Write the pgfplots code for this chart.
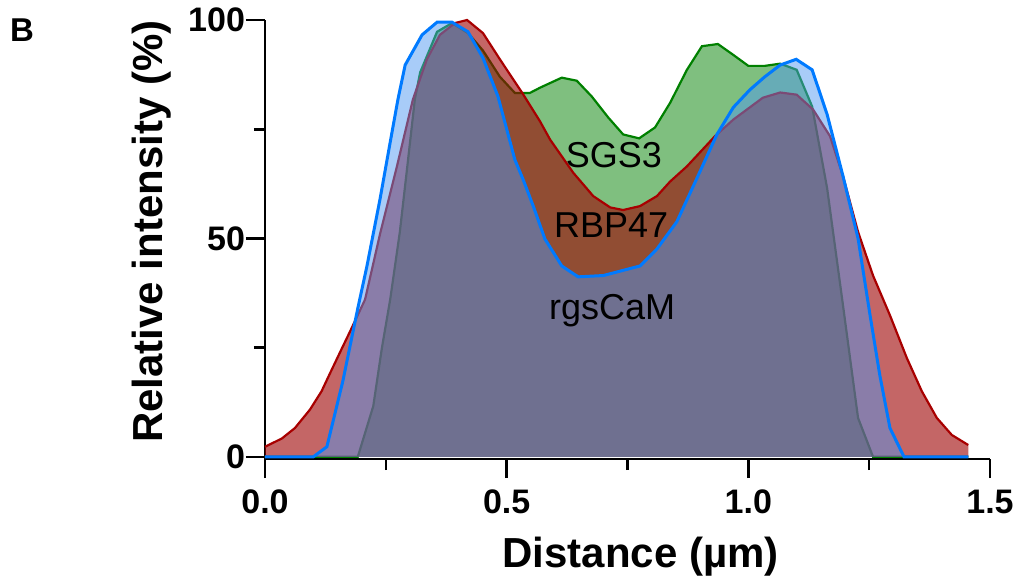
\documentclass[border=0pt]{standalone}
\usepackage{pgfplots}
\pgfplotsset{compat=1.18}
\usepackage{pgfplotstable}
\usepackage{fontspec}
\setmainfont{Liberation Sans}

\definecolor{redline}{RGB}{168,0,0}
\definecolor{redfill}{RGB}{157,0,0}
\definecolor{greenline}{RGB}{0,128,0}
\definecolor{greenfill}{RGB}{0,128,0}
\definecolor{blueline}{RGB}{0,122,255}
\definecolor{bluefill}{RGB}{78,151,240}

\pgfplotstableread{
x y
0 2.3
0.035 4.2
0.062 6.6
0.093 10.8
0.117 15
0.134 19
0.159 24.8
0.176 28.7
0.207 36
0.238 51
0.273 66.5
0.306 81.8
0.335 91
0.362 96.6
0.393 99.3
0.418 100
0.451 97
0.486 91
0.534 83
0.569 76.8
0.59 72.6
0.638 65
0.679 59.7
0.714 57.1
0.741 56.5
0.776 57.4
0.811 59.7
0.838 63
0.873 66.5
0.931 73.4
0.969 77.2
1.03 82.2
1.066 83.4
1.10 82.9
1.134 79.5
1.169 73.4
1.196 64.2
1.227 51.5
1.258 41.5
1.293 32.4
1.328 22.6
1.359 15
1.39 8.9
1.421 5
1.455 2.7
}\redtab

\pgfplotstableread{
x y
0 0
0.192 0
0.224 11.6
0.242 25
0.259 36
0.279 51.5
0.296 68
0.310 81.8
0.321 88
0.356 97.3
0.387 99.3
0.42 97
0.451 93
0.486 87
0.517 83.3
0.548 83.3
0.569 84.5
0.614 86.8
0.645 86.1
0.676 82.5
0.71 77.7
0.741 73.8
0.774 72.9
0.807 75.4
0.838 81
0.873 88.6
0.904 94
0.937 94.5
0.969 92
1.0 89.5
1.034 89.5
1.066 90
1.10 88.6
1.132 80.2
1.163 61.5
1.194 36.2
1.227 8.9
1.258 0
1.455 0
}\greentab

\pgfplotstableread{
x y
0 0
0.1 0
0.128 2.3
0.161 17.3
0.192 34
0.211 43.7
0.238 59
0.259 72
0.275 81.8
0.29 89.7
0.325 96.6
0.356 99.5
0.387 99.5
0.42 97.3
0.451 91.3
0.482 82.5
0.517 68
0.534 63.5
0.555 57.4
0.579 49.9
0.614 43.7
0.648 41.2
0.7 41.5
0.776 43.7
0.811 47.6
0.852 53.8
0.89 62.9
0.935 73.8
0.969 80
1.003 84
1.034 87
1.066 89.7
1.099 91
1.132 88.6
1.163 78.4
1.196 64.2
1.227 50
1.252 32.3
1.272 18.7
1.293 6.6
1.322 0
1.455 0
}\bluetab

\begin{document}
\begin{tikzpicture}
\useasboundingbox (-132.5pt,-59.5pt) rectangle (376.5pt,229.5pt);
\begin{axis}[
  at={(0,0)}, anchor=south west,
  scale only axis, width=362.5pt, height=219.5pt,
  xmin=0, xmax=1.5, ymin=-0.5, ymax=100,
  axis lines=left,
  axis line style={-, line width=1.3pt, black},
  xtick={0,0.5,1,1.5}, xticklabels={0.0,0.5,1.0,1.5},
  minor xtick={0.25,0.75,1.25},
  ytick={0,50,100}, yticklabels={0,50,100},
  minor ytick={25,75},
  tick align=outside,
  major tick length=9.5pt, minor tick length=5.5pt,
  every tick/.style={line width=1.3pt, black},
  every minor tick/.style={line width=1.3pt, black},
  ticklabel style={font=\bfseries\fontsize{17}{19}\selectfont},
  xticklabel style={yshift=-2.5pt},
  yticklabel style={xshift=3pt},
  clip=false,
]
\addplot[draw=none, fill=greenfill, fill opacity=0.5] table {\greentab} \closedcycle;
\addplot[draw=greenline, line width=1.1pt] table {\greentab};
\addplot[draw=none, fill=redfill, fill opacity=0.6] table {\redtab} \closedcycle;
\addplot[draw=redline, line width=1.1pt] table {\redtab};
\addplot[draw=none, fill=bluefill, fill opacity=0.49] table {\bluetab} \closedcycle;
\addplot[draw=blueline, line width=1.5pt] table {\bluetab};

\node[font=\fontsize{18}{20}\selectfont, anchor=base] at (axis cs:0.722,66.3) {SGS3};
\node[font=\fontsize{18}{20}\selectfont, anchor=base] at (axis cs:0.716,50.1) {RBP47};
\node[font=\fontsize{18}{20}\selectfont, anchor=base] at (axis cs:0.718,31.4) {rgsCaM};
\end{axis}
\node[font=\bfseries\fontsize{21}{24}\selectfont, anchor=base] at (187.75pt,-54pt) {Distance (µm)};
\node[font=\bfseries\fontsize{21}{24}\selectfont, anchor=base, rotate=90] at (-51pt,113.75pt) {Relative intensity (\%)};
\node[font=\bfseries\fontsize{16.5}{18}\selectfont] at (-121.5pt,214.5pt) {B};
\end{tikzpicture}
\end{document}
